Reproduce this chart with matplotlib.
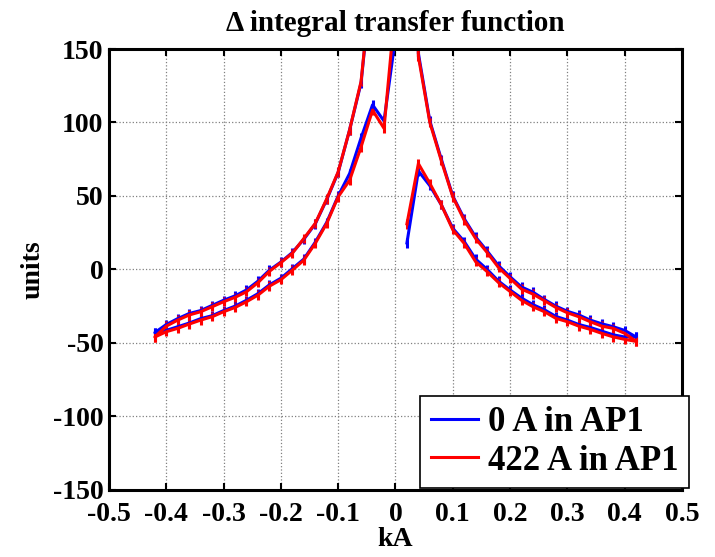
import numpy as np
import matplotlib.pyplot as plt
from matplotlib.lines import Line2D
from matplotlib.ticker import FuncFormatter

# current steps (kA)
x_right = [0.02, 0.04, 0.06, 0.08, 0.10, 0.12, 0.14, 0.16, 0.18, 0.20, 0.22,
           0.24, 0.26, 0.28, 0.30, 0.32, 0.34, 0.36, 0.38, 0.40, 0.42]
x_left = [-v for v in x_right]

# 0 A in AP1 (blue)
b_right_up = [18, 67, 57, 44, 28, 19, 7, 0, -8, -14, -19.5,
              -24, -27.5, -32, -34.5, -37.5, -39.5, -42, -44.5, -46, -46]
b_right_down = [500, 147, 101, 75, 50, 34.5, 22, 12.5, 2.5, -5, -12,
                -15.5, -20.5, -25, -28.5, -31, -34.5, -37, -39, -41.5, -46]
b_left_up = [101, 112, 89.5, 65.3, 50, 32, 18.5, 7, 0.5, -6, -10.5,
             -16.5, -21, -25, -28, -31.5, -33.5, -36.5, -39, -41.5, -43]
b_left_down = [400, 204, 127, 95, 66, 47.5, 31, 20.5, 11.5, 5, -0.5,
               -8, -14, -18, -21, -24.5, -28, -30, -33.5, -37.5, -43]
b_zero = 158

# 422 A in AP1 (red)
r_right_up = [31, 72, 58.5, 44, 27, 17.7, 5.2, -1.5, -9, -15, -21,
              -25.4, -28.8, -33.3, -35.6, -38.6, -40.8, -43.5, -45.9, -47.6, -49]
r_right_down = [500, 145, 100, 74, 49.4, 33.5, 21, 11.5, 1.2, -6.1, -13.4,
                -16.8, -21.3, -25.9, -29.5, -32.2, -35.6, -38.6, -40.1, -43.5, -49]
r_left_up = [96, 108.4, 83.4, 60.7, 49.4, 31.3, 17.7, 6.3, -0.5, -7, -11.4,
             -17.5, -22, -25.9, -28.8, -32.2, -34.5, -37.2, -40.1, -42.4, -46]
r_left_down = [400, 205, 128, 95, 66.4, 48, 31.3, 21, 11, 4.6, -1.3,
               -9, -15.2, -19, -22, -25.4, -28.8, -31, -34.5, -38.6, -46]
r_zero = 180


def build(right_up, right_down, left_up, left_down, zero):
	# one path per series, NaN breaks where the curve leaves the plot
	xr = np.array(x_right)
	xl = np.array(x_left)
	xs = np.concatenate([xr, xr[::-1], [np.nan], [0.0], xl, xl[::-1]])
	ys = np.concatenate([right_up, right_down[::-1], [np.nan], [zero],
	                     left_up, left_down[::-1]])
	return xs, ys


plt.rcParams['font.family'] = ['Liberation Serif', 'DejaVu Serif']
plt.rcParams['font.weight'] = 'bold'
plt.rcParams['axes.unicode_minus'] = False

fig = plt.figure(figsize=(7.15, 5.57), dpi=100)
ax = fig.add_axes([0.1524, 0.1206, 0.8014, 0.7914])

series = [((b_right_up, b_right_down, b_left_up, b_left_down, b_zero), 'b', '0 A in AP1'),
          ((r_right_up, r_right_down, r_left_up, r_left_down, r_zero), 'r', '422 A in AP1')]
handles = []
for args, col, lab in series:
	xs, ys = build(*args)
	ax.errorbar(xs, ys, yerr=3.2, fmt='-', color=col, ecolor=col,
	            linewidth=2.2, elinewidth=2.2, capsize=0)
	handles.append(Line2D([], [], color=col, linewidth=2.2, label=lab))

ax.set_xlim(-0.5, 0.5)
ax.set_ylim(-150, 150)
ax.set_xticks(np.arange(-0.5, 0.51, 0.1))
ax.set_yticks(np.arange(-150, 151, 50))
ax.xaxis.set_major_formatter(FuncFormatter(lambda v, p: '0' if abs(v) < 1e-9 else f'{v:g}'))
ax.tick_params(direction='in', length=5, width=1.5, labelsize=20,
               top=True, right=True)
ax.tick_params(axis='x', pad=9)
ax.tick_params(axis='y', pad=4)
for t in ax.get_xticklabels() + ax.get_yticklabels():
	t.set_fontweight('bold')
for s in ax.spines.values():
	s.set_linewidth(2.2)
ax.grid(True, linestyle=':', color='grey', linewidth=0.9)

ax.set_title('\u0394 integral transfer function', fontsize=21, fontweight='bold', pad=13)
ax.set_xlabel('kA', fontsize=20, fontweight='bold', labelpad=0)
ax.set_ylabel('units', fontsize=20, fontweight='bold', labelpad=5)

leg = ax.legend(handles=handles, loc='lower right', bbox_to_anchor=(1.012, 0.004),
                fontsize=25, fancybox=False, framealpha=1, edgecolor='black',
                handlelength=1.35, handletextpad=0.3, borderpad=0.3,
                labelspacing=0.15, borderaxespad=0)
leg.get_frame().set_linewidth(1.2)
for t in leg.get_texts():
	t.set_fontweight('bold')

fig.savefig('out.png', dpi=100)
